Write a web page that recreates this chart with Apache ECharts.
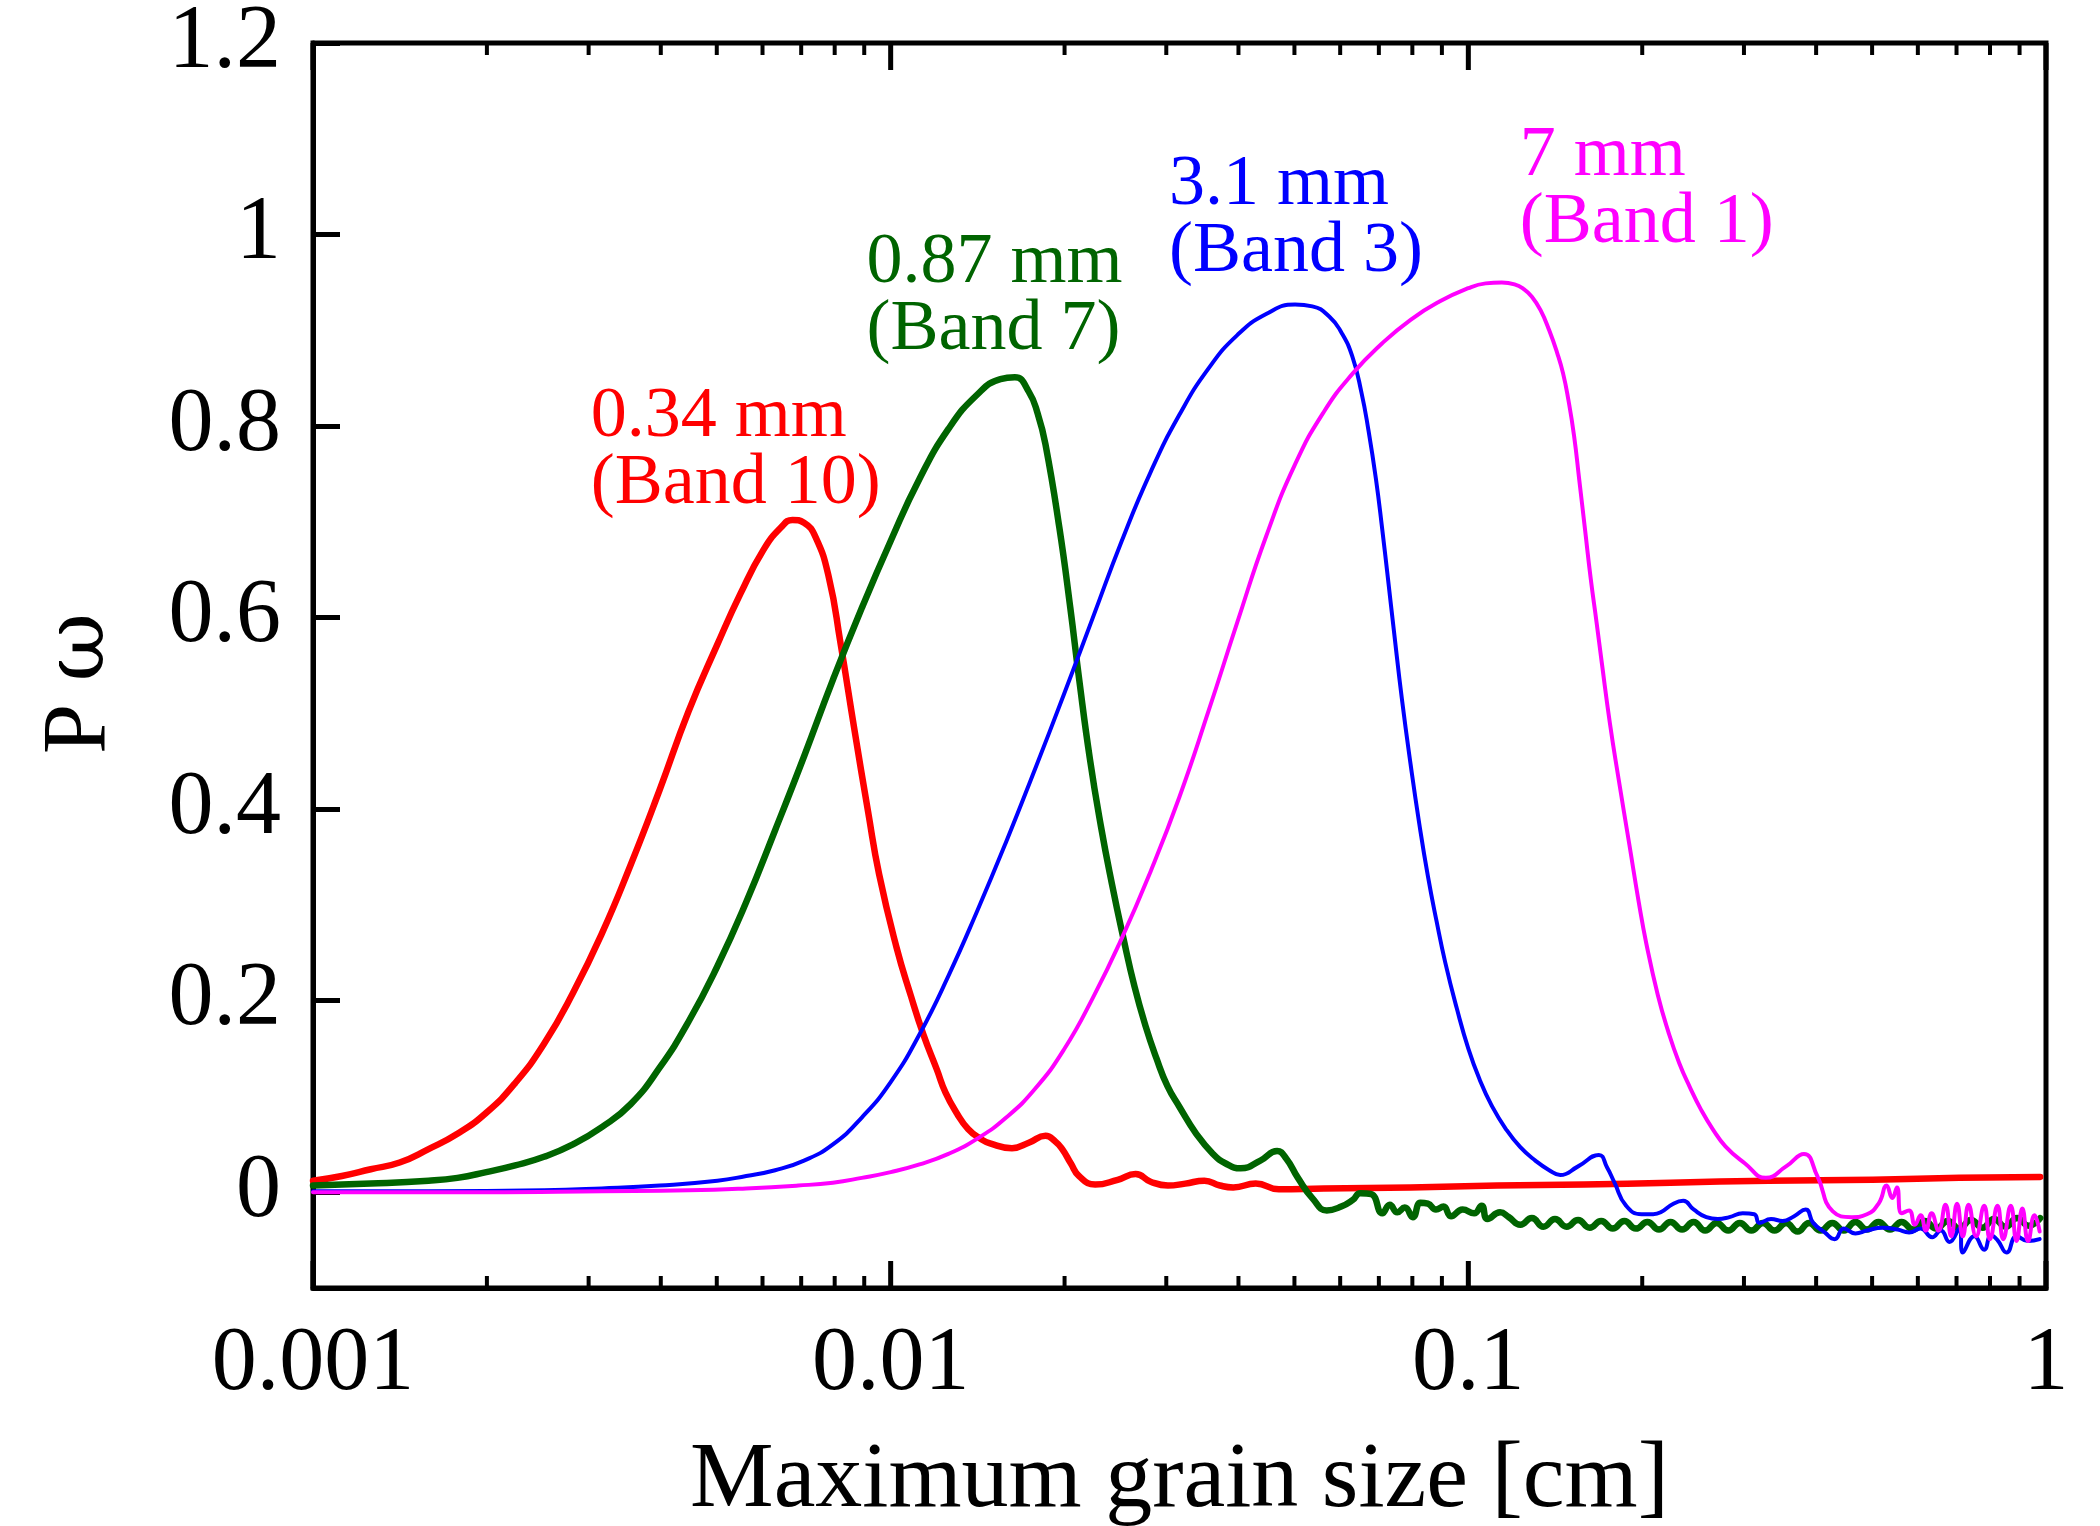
<!DOCTYPE html>
<html>
<head>
<meta charset="utf-8">
<script src="https://cdn.jsdelivr.net/npm/echarts@6/dist/echarts.min.js"></script>
<style>
html,body{margin:0;padding:0;background:#fff;}
#chart{width:2100px;height:1526px;}
</style>
</head>
<body>
<div id="chart"></div>
<script>
// ---------- tick labels ----------
const xTickLabels = ['0.001', '0.01', '0.1', '1'];
const xMajorTicks = [0.001, 0.01, 0.1, 1];
const xMinorTicks = [0.002, 0.003, 0.004, 0.005, 0.006, 0.007, 0.008, 0.009,
                     0.02, 0.03, 0.04, 0.05, 0.06, 0.07, 0.08, 0.09,
                     0.2, 0.3, 0.4, 0.5, 0.6, 0.7, 0.8, 0.9];
const yTicks = [0, 0.2, 0.4, 0.6, 0.8, 1, 1.2];
const yTickLabels = ['0', '0.2', '0.4', '0.6', '0.8', '1', '1.2'];

// ---------- series data: [log10(maximum grain size / cm), P_omega] ----------
const band10 = [
  [-3.00,0.012],[-2.95,0.017],[-2.90,0.024],[-2.85,0.031],[-2.80,0.045],[-2.75,0.061],
  [-2.70,0.083],[-2.65,0.114],[-2.60,0.155],[-2.55,0.208],[-2.50,0.270],[-2.45,0.342],
  [-2.40,0.420],[-2.35,0.502],[-2.30,0.572],[-2.26,0.625],[-2.22,0.671],[-2.19,0.694],
  [-2.17,0.702],[-2.15,0.699],[-2.13,0.684],[-2.107,0.642],[-2.087,0.574],[-2.063,0.484],
  [-2.039,0.397],[-2.02,0.332],[-1.99,0.256],[-1.965,0.205],[-1.943,0.164],[-1.92,0.128],
  [-1.905,0.104],[-1.885,0.082],[-1.866,0.066],[-1.845,0.056],[-1.828,0.051],[-1.79,0.046],
  [-1.76,0.052],[-1.732,0.059],[-1.715,0.053],[-1.703,0.045],[-1.688,0.030],[-1.674,0.017],
  [-1.646,0.008],[-1.607,0.013],[-1.576,0.019],[-1.55,0.011],[-1.52,0.007],[-1.49,0.009],
  [-1.457,0.012],[-1.43,0.007],[-1.407,0.005],[-1.368,0.009],[-1.328,0.003],[-1.25,0.004],
  [-1.10,0.005],[-0.95,0.007],[-0.80,0.008],[-0.65,0.010],[-0.48,0.012],[-0.30,0.013],
  [-0.15,0.015],[-0.01,0.016]
];
const band7 = [
  [-3.00,0.007],[-2.90,0.009],[-2.80,0.012],[-2.75,0.015],[-2.70,0.021],[-2.65,0.028],
  [-2.60,0.037],[-2.55,0.050],[-2.50,0.068],[-2.45,0.092],[-2.40,0.130],[-2.35,0.178],
  [-2.30,0.236],[-2.25,0.303],[-2.20,0.378],[-2.15,0.455],[-2.10,0.535],[-2.05,0.610],
  [-2.00,0.680],[-1.95,0.745],[-1.90,0.797],[-1.85,0.833],[-1.81,0.849],[-1.785,0.851],
  [-1.761,0.836],[-1.745,0.812],[-1.732,0.781],[-1.708,0.694],[-1.689,0.610],[-1.674,0.537],
  [-1.655,0.452],[-1.636,0.382],[-1.617,0.322],[-1.597,0.265],[-1.578,0.215],[-1.559,0.174],
  [-1.54,0.140],[-1.521,0.111],[-1.50,0.089],[-1.471,0.061],[-1.442,0.040],[-1.42,0.030],
  [-1.394,0.025],[-1.36,0.033],[-1.331,0.043],[-1.315,0.035],[-1.295,0.015],[-1.269,-0.007],
  [-1.245,-0.019],[-1.22,-0.015],[-1.20,-0.008],[-1.187,-0.001],[-1.168,-0.002],[-1.149,-0.022],
  [-1.136,-0.013],[-1.123,-0.021],[-1.11,-0.016],[-1.096,-0.026],[-1.083,-0.011],[-1.07,-0.012],
  [-1.056,-0.018],[-1.043,-0.015],[-1.03,-0.025],[-1.01,-0.018],[-0.99,-0.022],[-0.977,-0.014],
  [-0.967,-0.028],[-0.945,-0.021],
  [-0.93,-0.026],[-0.91,-0.034],[-0.89,-0.027],[-0.87,-0.036],[-0.85,-0.028],[-0.83,-0.036],
  [-0.81,-0.029],[-0.79,-0.037],[-0.77,-0.030],[-0.75,-0.038],[-0.73,-0.030],[-0.71,-0.038],
  [-0.69,-0.031],[-0.67,-0.039],[-0.65,-0.031],[-0.63,-0.039],[-0.61,-0.031],[-0.59,-0.040],
  [-0.57,-0.032],[-0.55,-0.040],[-0.53,-0.032],[-0.51,-0.040],[-0.49,-0.032],[-0.47,-0.040],
  [-0.45,-0.032],[-0.43,-0.041],[-0.41,-0.032],[-0.39,-0.040],[-0.37,-0.032],[-0.35,-0.040],
  [-0.33,-0.031],[-0.31,-0.039],[-0.29,-0.031],[-0.27,-0.039],[-0.25,-0.031],[-0.23,-0.039],
  [-0.21,-0.030],[-0.19,-0.038],[-0.17,-0.030],[-0.15,-0.038],[-0.13,-0.029],[-0.11,-0.037],
  [-0.09,-0.028],[-0.07,-0.036],[-0.05,-0.027],[-0.03,-0.035],[-0.01,-0.027]
];
const band3 = [
  [-3.00,0.001],[-2.80,0.001],[-2.60,0.002],[-2.50,0.004],[-2.40,0.007],[-2.30,0.012],
  [-2.25,0.017],[-2.20,0.023],[-2.15,0.033],[-2.10,0.050],[-2.05,0.078],[-2.00,0.115],
  [-1.95,0.165],[-1.90,0.226],[-1.85,0.294],[-1.80,0.366],[-1.75,0.442],[-1.70,0.520],
  [-1.65,0.600],[-1.60,0.680],[-1.55,0.752],[-1.50,0.812],[-1.45,0.860],[-1.40,0.895],
  [-1.35,0.917],[-1.30,0.927],[-1.27,0.925],[-1.24,0.914],[-1.22,0.898],[-1.201,0.873],
  [-1.185,0.835],[-1.173,0.796],[-1.16,0.745],[-1.149,0.692],[-1.139,0.640],[-1.129,0.587],
  [-1.115,0.515],[-1.10,0.447],[-1.085,0.385],[-1.07,0.330],[-1.055,0.283],[-1.04,0.240],
  [-1.02,0.192],[-1.00,0.150],[-0.98,0.117],[-0.96,0.091],[-0.935,0.066],[-0.91,0.047],
  [-0.884,0.033],[-0.86,0.023],[-0.841,0.018],[-0.81,0.027],[-0.774,0.039],[-0.76,0.026],
  [-0.747,0.010],[-0.727,-0.014],[-0.70,-0.023],[-0.68,-0.023],[-0.667,-0.021],[-0.645,-0.012],
  [-0.628,-0.009],[-0.61,-0.018],[-0.588,-0.026],[-0.568,-0.028],[-0.548,-0.026],[-0.525,-0.022],
  [-0.505,-0.023],[-0.496,-0.032],[-0.476,-0.028],[-0.456,-0.030],[-0.436,-0.025],[-0.416,-0.018],
  [-0.403,-0.032],[-0.383,-0.042],[-0.366,-0.049],[-0.35,-0.038],[-0.33,-0.043],[-0.31,-0.040],
  [-0.283,-0.037],[-0.257,-0.039],[-0.237,-0.042],[-0.217,-0.038],[-0.197,-0.047],[-0.182,-0.040],
  [-0.167,-0.052],[-0.15,-0.038],[-0.144,-0.063],[-0.124,-0.046],[-0.107,-0.060],[-0.095,-0.045],
  [-0.084,-0.050],[-0.068,-0.063],[-0.051,-0.046],[-0.031,-0.051],[-0.011,-0.049]
];
const band1 = [
  [-3.00,0.000],[-2.70,0.000],[-2.50,0.001],[-2.35,0.002],[-2.25,0.004],[-2.16,0.007],
  [-2.10,0.010],[-2.05,0.015],[-2.00,0.021],[-1.95,0.029],[-1.90,0.040],[-1.85,0.056],
  [-1.80,0.078],[-1.75,0.108],[-1.70,0.149],[-1.65,0.203],[-1.60,0.265],[-1.55,0.335],
  [-1.50,0.413],[-1.45,0.502],[-1.40,0.595],[-1.35,0.685],[-1.30,0.760],[-1.25,0.815],
  [-1.20,0.855],[-1.15,0.886],[-1.10,0.911],[-1.05,0.930],[-1.00,0.944],[-0.97,0.949],
  [-0.942,0.950],[-0.92,0.948],[-0.904,0.943],[-0.89,0.935],[-0.875,0.921],[-0.86,0.900],
  [-0.846,0.876],[-0.836,0.855],[-0.827,0.828],[-0.817,0.790],[-0.808,0.744],[-0.798,0.692],
  [-0.788,0.640],[-0.778,0.595],[-0.769,0.553],[-0.755,0.490],[-0.74,0.432],[-0.721,0.362],
  [-0.705,0.303],[-0.692,0.260],[-0.672,0.206],[-0.654,0.168],[-0.635,0.135],[-0.616,0.109],
  [-0.597,0.086],[-0.577,0.066],[-0.555,0.048],[-0.521,0.030],[-0.485,0.015],[-0.45,0.027],
  [-0.419,0.040],[-0.396,0.017],[-0.369,-0.020],[-0.336,-0.026],[-0.31,-0.023],[-0.289,-0.011],
  [-0.276,0.007],[-0.266,-0.006],[-0.258,0.005],[-0.25,-0.022],[-0.237,-0.019],[-0.227,-0.034],
  [-0.217,-0.024],[-0.208,-0.040],[-0.198,-0.022],[-0.186,-0.040],[-0.174,-0.013],[-0.164,-0.046],
  [-0.154,-0.012],[-0.144,-0.046],[-0.134,-0.013],[-0.121,-0.046],[-0.107,-0.014],[-0.097,-0.049],
  [-0.084,-0.014],[-0.074,-0.049],[-0.061,-0.014],[-0.051,-0.051],[-0.041,-0.017],[-0.031,-0.051],
  [-0.02,-0.024],[-0.011,-0.041]
];

// ---------- annotation texts ----------
const annotationTexts = ['0.34 mm\n(Band 10)', '0.87 mm\n(Band 7)', '3.1 mm\n(Band 3)', '7 mm\n(Band 1)'];

// ---------- styling / layout (not data) ----------
const FONT = '"Liberation Serif", "Times New Roman", serif';
const seriesStyle = [
  { name: '0.34 mm (Band 10)', data: band10, color: '#ff0000', width: 6.5 },
  { name: '0.87 mm (Band 7)',  data: band7,  color: '#006400', width: 6.5 },
  { name: '3.1 mm (Band 3)',   data: band3,  color: '#0000ff', width: 4 },
  { name: '7 mm (Band 1)',     data: band1,  color: '#ff00ff', width: 4 }
];
// top-left anchor of each annotation in data coordinates [size cm, P]
const annotationAnchors = [[0.003027, 0.844], [0.009085, 1.0054], [0.03034, 1.0863], [0.1228, 1.117]];
const TICK_MAJOR = 27, TICK_MINOR = 12;
const Y_MIN = -0.1, Y_MAX = 1.2;

const chart = echarts.init(document.getElementById('chart'), null, { renderer: 'canvas' });

// tick-label positions along the log axis, expressed as decades (log10 of the size)
const majorDecades = xMajorTicks.map(v => Math.log10(v));

function xLabel(v) {
  const i = majorDecades.findIndex(t => Math.abs(t - v) < 1e-6);
  return i >= 0 ? xTickLabels[i] : '';
}
function yLabel(v) {
  const i = yTicks.findIndex(t => Math.abs(t - v) < 1e-9);
  return i >= 0 ? yTickLabels[i] : '';
}

// tick marks for the log x axis: [size, tick length px, line width px]
const tickRows = xMajorTicks.map(v => [v, TICK_MAJOR, 5])
  .concat(xMinorTicks.map(v => [v, TICK_MINOR, 4]));

const lineSeries = seriesStyle.map((s, idx) => ({
  type: 'line',
  name: s.name,
  xAxisIndex: 0, yAxisIndex: 0,
  data: s.data.map(p => [Math.pow(10, p[0]), p[1]]),
  showSymbol: false,
  symbol: 'none',
  smooth: 0.5,
  clip: true,
  z: 2 + idx,
  lineStyle: { color: s.color, width: s.width, join: 'round', cap: 'round' },
  itemStyle: { color: s.color },
  emphasis: { disabled: true }
}));

const tickSeries = {
  type: 'custom',
  name: 'x ticks',
  xAxisIndex: 0, yAxisIndex: 0,
  data: tickRows,
  encode: { x: 0 },
  clip: false,
  silent: true,
  z: 20,
  renderItem: function (params, api) {
    const v = api.value(0), len = api.value(1), w = api.value(2);
    const pb = api.coord([v, Y_MIN]);
    const pt = api.coord([v, Y_MAX]);
    return {
      type: 'group',
      children: [
        { type: 'line', shape: { x1: pb[0], y1: pb[1], x2: pb[0], y2: pb[1] - len },
          style: { stroke: '#000', lineWidth: w, fill: null } },
        { type: 'line', shape: { x1: pt[0], y1: pt[1], x2: pt[0], y2: pt[1] + len },
          style: { stroke: '#000', lineWidth: w, fill: null } }
      ]
    };
  }
};

const option = {
  animation: false,
  backgroundColor: '#ffffff',
  grid: {
    left: 313, right: 54, top: 43, bottom: 238,
    show: true, borderColor: '#000', borderWidth: 5, backgroundColor: 'transparent',
    containLabel: false, outerBoundsMode: 'none'
  },
  xAxis: [
    {
      type: 'log', logBase: 10, min: 0.001, max: 1, gridIndex: 0, position: 'bottom',
      splitLine: { show: false },
      axisLine: { show: true, onZero: false, lineStyle: { color: '#000', width: 5 } },
      axisTick: { show: false },
      axisLabel: { show: false },
      name: 'Maximum grain size [cm]', nameLocation: 'middle', nameGap: 146, nameMoveOverlap: false,
      nameTextStyle: { fontSize: 94, fontFamily: FONT, color: '#000' }
    },
    {
      // decade-space companion axis that carries the tick labels
      type: 'value', min: majorDecades[0], max: majorDecades[majorDecades.length - 1],
      gridIndex: 0, position: 'bottom',
      splitLine: { show: false },
      axisLine: { show: false, onZero: false },
      axisTick: { show: false },
      axisLabel: { show: true, customValues: majorDecades, formatter: xLabel, fontSize: 90,
                   fontFamily: FONT, color: '#000', margin: 32 }
    }
  ],
  yAxis: [{
    type: 'value', min: Y_MIN, max: Y_MAX, gridIndex: 0, position: 'left',
    splitLine: { show: false },
    axisLine: { show: true, onZero: false, lineStyle: { color: '#000', width: 5 } },
    axisTick: { show: true, inside: true, length: 27, customValues: yTicks, lineStyle: { color: '#000', width: 5 } },
    axisLabel: { show: true, customValues: yTicks, formatter: yLabel, fontSize: 90, fontFamily: FONT, color: '#000', margin: 32, padding: [22, 0, 0, 0] },
    name: '{p|P} {w|ω}', nameLocation: 'middle', nameGap: 187, nameMoveOverlap: false,
    nameTextStyle: {
      fontSize: 90, fontFamily: FONT, color: '#000', padding: [0, 36, 0, 0],
      rich: {
        p: { fontSize: 90, fontFamily: FONT, color: '#000' },
        w: { fontSize: 84, fontFamily: '"DejaVu Serif", serif', color: '#000' }
      }
    }
  }],
  series: lineSeries.concat([tickSeries])
};

chart.setOption(option);

// annotations, placed using the library's own coordinate conversion
const gridFinder = { xAxisIndex: 0, yAxisIndex: 0 };
const graphics = annotationTexts.map((t, i) => {
  const p = chart.convertToPixel(gridFinder, annotationAnchors[i]);
  return {
    type: 'text', x: p[0], y: p[1], z: 100,
    style: {
      text: t, fill: seriesStyle[i].color,
      font: '72px ' + FONT, lineHeight: 67,
      textAlign: 'left', textVerticalAlign: 'top', align: 'left', verticalAlign: 'top'
    }
  };
});
chart.setOption({ graphic: graphics });
</script>
</body>
</html>
